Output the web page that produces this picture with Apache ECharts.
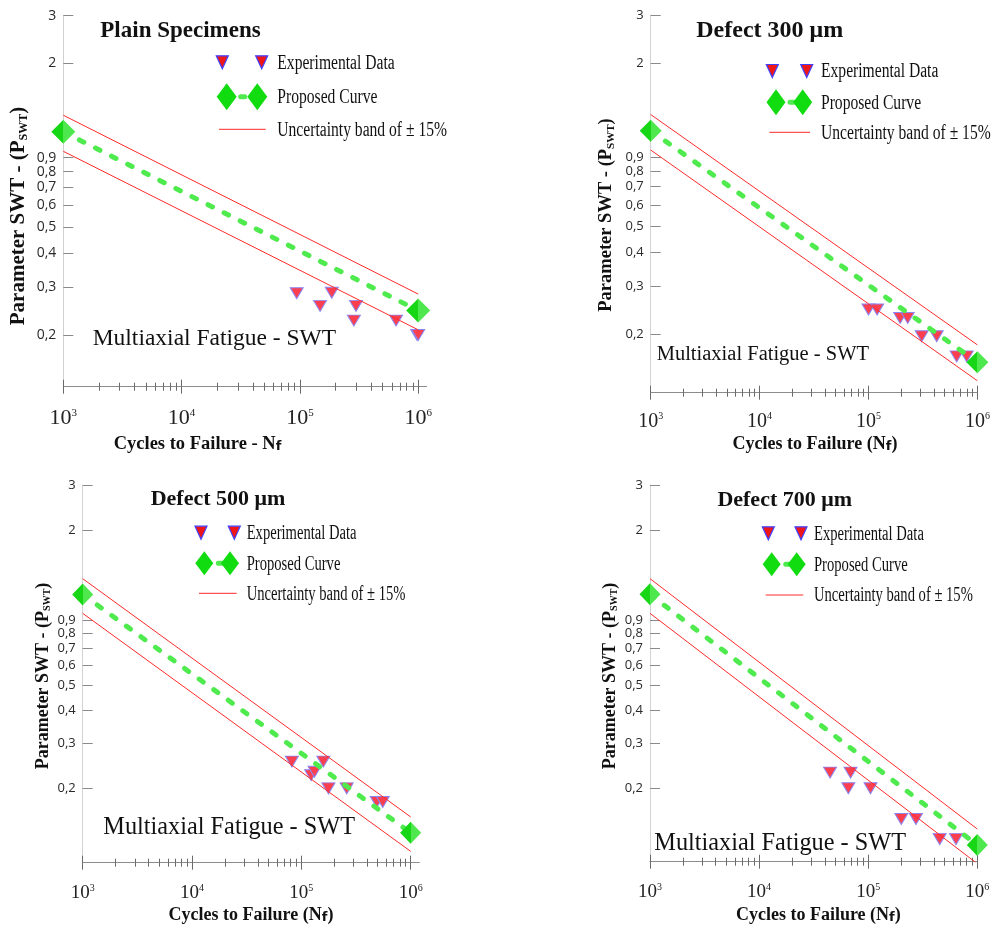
<!DOCTYPE html>
<html>
<head>
<meta charset="utf-8">
<script src="https://cdn.jsdelivr.net/npm/echarts@6.0.0/dist/echarts.min.js"></script>
<style>
  html, body { margin: 0; padding: 0; background: #fff; }
  #chart { width: 993px; height: 926px; }
</style>
</head>
<body>
<div id="chart"></div>
<script>
// ---- data ----
const curveCycles = [1e3, 1e6];
const xMajorTicks = [1e3, 1e4, 1e5, 1e6];
const xMinorSteps = [2, 3, 4, 5, 6, 7, 8, 9];
const yTickValues = [0.2, 0.3, 0.4, 0.5, 0.6, 0.7, 0.8, 0.9, 2, 3];

// Plain Specimens
const plainExpCycles = [9.4e4, 1.48e5, 1.86e5, 2.86e5, 2.98e5, 6.5e5, 9.8e5, 1.0e6];
const plainExpSwt = [0.285, 0.256, 0.286, 0.226, 0.256, 0.226, 0.2, 0.2];
const plainCurveSwt = [1.12, 0.246];
const plainUpperSwt = [1.29, 0.283];
const plainLowerSwt = [0.95, 0.209];

// Defect 300 um
const d300ExpCycles = [1.0e5, 1.2e5, 1.95e5, 2.29e5, 3.08e5, 4.23e5, 6.45e5, 7.98e5];
const d300ExpSwt = [0.247, 0.247, 0.230, 0.230, 0.197, 0.197, 0.166, 0.166];
const d300CurveSwt = [1.125, 0.158];
const d300UpperSwt = [1.29, 0.183];
const d300LowerSwt = [0.955, 0.135];

// Defect 500 um
const d500ExpCycles = [8.2e4, 1.23e5, 1.32e5, 1.59e5, 1.77e5, 2.6e5, 4.9e5, 5.56e5];
const d500ExpSwt = [0.254, 0.225, 0.232, 0.254, 0.2, 0.2, 0.177, 0.177];
const d500CurveSwt = [1.13, 0.1345];
const d500UpperSwt = [1.30, 0.155];
const d500LowerSwt = [0.954, 0.114];

// Defect 700 um
const d700ExpCycles = [4.47e4, 6.89e4, 6.58e4, 1.05e5, 2.01e5, 2.74e5, 4.52e5, 6.38e5];
const d700ExpSwt = [0.23, 0.23, 0.2, 0.2, 0.152, 0.152, 0.127, 0.127];
const d700CurveSwt = [1.13, 0.1205];
const d700UpperSwt = [1.30, 0.139];
const d700LowerSwt = [0.954, 0.102];

// ---- layout of the four panels ----
const panels = [
  {
    title: 'Plain Specimens', xTitle: ['Cycles to Failure - N', 'f', ''],
    cycles: plainExpCycles, swt: plainExpSwt, curve: plainCurveSwt, upper: plainUpperSwt, lower: plainLowerSwt,
    box: { left: 63.3, top: 15.7, width: 363.4, height: 371 }, xMax: 1.18e6, yMin: 0.129,
    titlePos: [180.5, 31, 23], yLab: 14, xLab: 22, xMargin: 21, diamond: [24, 24],
    legend: { tri: [222.3, 261.7], rows: [62.3, 96.7, 129.3], dia: [226.7, 257.3], line: [219, 265.7], tx: 277.3, sx: 0.78, dsz: [20, 27] },
    multi: [92.7, 339.3, 23.5], yTitle: [19, 216, 21], xTitlePos: [197.5, 444, 18.5]
  },
  {
    title: 'Defect 300 \u03bcm', xTitle: ['Cycles to Failure (N', 'f', ')'],
    cycles: d300ExpCycles, swt: d300ExpSwt, curve: d300CurveSwt, upper: d300UpperSwt, lower: d300LowerSwt,
    box: { left: 650.7, top: 15, width: 326.7, height: 377.7 }, xMax: 1e6, yMin: 0.122,
    titlePos: [769.7, 30.7, 24], yLab: 13, xLab: 20, xMargin: 19, diamond: [22, 22],
    legend: { tri: [772.3, 806.7], rows: [71, 102.3, 132.3], dia: [776, 802.7], line: [769.3, 810], tx: 821, sx: 0.78, dsz: [19, 26] },
    multi: [656.7, 354.3, 20.5], yTitle: [606.7, 215, 18.5], xTitlePos: [815, 444, 18]
  },
  {
    title: 'Defect 500 \u03bcm', xTitle: ['Cycles to Failure (N', 'f', ')'],
    cycles: d500ExpCycles, swt: d500ExpSwt, curve: d500CurveSwt, upper: d500UpperSwt, lower: d500LowerSwt,
    box: { left: 82.7, top: 485, width: 336.6, height: 377.7 }, xMax: 1.2e6, yMin: 0.103,
    titlePos: [218, 499.3, 22], yLab: 13, xLab: 19, xMargin: 21, diamond: [21, 22],
    legend: { tri: [201, 234.3], rows: [532.7, 563.3, 593.3], dia: [204.3, 230], line: [199, 236.7], tx: 246.7, sx: 0.73, dsz: [18, 24] },
    multi: [103.3, 827.7, 24.3], yTitle: [43.3, 676, 18], xTitlePos: [251, 915, 18]
  },
  {
    title: 'Defect 700 \u03bcm', xTitle: ['Cycles to Failure (N', 'f', ')'],
    cycles: d700ExpCycles, swt: d700ExpSwt, curve: d700CurveSwt, upper: d700UpperSwt, lower: d700LowerSwt,
    box: { left: 650, top: 485, width: 327.3, height: 376.7 }, xMax: 1e6, yMin: 0.1038,
    titlePos: [784.7, 500.7, 22], yLab: 13, xLab: 19, xMargin: 21, diamond: [21, 22],
    legend: { tri: [768.3, 801], rows: [533.3, 564.3, 595], dia: [771.7, 796.7], line: [765.7, 803.3], tx: 814, sx: 0.73, dsz: [18, 24] },
    multi: [654.3, 843.3, 24.3], yTitle: [610, 676, 18], xTitlePos: [818.3, 915, 18]
  }
];

const SERIF = '"Liberation Serif", "Times New Roman", serif';
const GREEN_LINE = '#4eea4e';
const RED_LINE = '#ff2a2a';

function diamondFill() {
  return new echarts.graphic.LinearGradient(0, 0, 1, 0, [
    { offset: 0, color: '#16d616' }, { offset: 0.5, color: '#16d616' },
    { offset: 0.5, color: '#4ee84e' }, { offset: 1, color: '#4ee84e' }
  ]);
}

// x axis in log space, only used to draw ticks / labels
function tickAxisX(g, lx, values, len, inside, showLine, label) {
  return {
    type: 'value', gridIndex: g, position: 'bottom', min: lx[0], max: lx[1],
    axisLine: { show: showLine, onZero: false, lineStyle: { color: '#8c8c8c', width: 1 } },
    axisTick: { show: true, inside: inside, length: len, customValues: values, lineStyle: { color: '#6a6a6a', width: 1 } },
    axisLabel: label || { show: false },
    splitLine: { show: false }
  };
}

const grid = [], xAxis = [], yAxis = [], series = [], graphic = [];

panels.forEach((p, g) => {
  grid.push(Object.assign({ containLabel: false }, p.box));

  // data axes (real log scales)
  const xi = xAxis.length;
  xAxis.push({ type: 'log', gridIndex: g, min: 1e3, max: p.xMax, show: false, axisLine: { onZero: false } });
  const yi = yAxis.length;
  yAxis.push({ type: 'log', gridIndex: g, min: p.yMin, max: 3, show: false, axisLine: { onZero: false } });

  // tick axes
  const lx = [Math.log10(1e3), Math.log10(p.xMax)];
  const ly = [Math.log10(p.yMin), Math.log10(3)];
  const majors = xMajorTicks.map(Math.log10);
  const minors = [];
  xMajorTicks.slice(0, 3).forEach(d => xMinorSteps.forEach(s => minors.push(Math.log10(d * s))));

  xAxis.push(tickAxisX(g, lx, majors, 7, false, true, {
    show: true, customValues: majors, margin: p.xMargin,
    formatter: v => '{b|10}{s|' + Math.round(v) + '}',
    rich: {
      b: { fontFamily: SERIF, fontSize: p.xLab, color: '#222' },
      s: { fontFamily: SERIF, fontSize: Math.round(p.xLab * 0.5), color: '#222', verticalAlign: 'top' }
    }
  }));
  xAxis.push(tickAxisX(g, lx, majors, 7, true, false));
  xAxis.push(tickAxisX(g, lx, minors, 4, false, false));
  xAxis.push(tickAxisX(g, lx, minors, 4, true, false));

  const yVals = yTickValues.map(Math.log10);
  yAxis.push({
    type: 'value', gridIndex: g, position: 'left', min: ly[0], max: ly[1],
    axisLine: { show: true, onZero: false, lineStyle: { color: '#d2d2d2', width: 1 } },
    axisTick: { show: true, inside: true, length: 10, customValues: yVals, lineStyle: { color: '#8a8a8a' } },
    axisLabel: {
      show: true, customValues: yVals, margin: 7,
      fontFamily: '"Open Sans", sans-serif', fontSize: p.yLab, color: '#2a2a2a',
      formatter: v => {
        const n = Math.pow(10, v);
        return n >= 1 ? String(Math.round(n)) : n.toFixed(1).replace('.', ',');
      }
    },
    splitLine: { show: false }
  });

  // series
  series.push({
    type: 'scatter', xAxisIndex: xi, yAxisIndex: yi, z: 2,
    data: p.cycles.map((c, i) => [c, p.swt[i]]),
    symbol: 'triangle', symbolRotate: 180, symbolSize: [13, 11],
    itemStyle: { color: '#fb3f4e', borderColor: '#8a86f4', borderWidth: 1, opacity: 1 }
  });
  [p.upper, p.lower].forEach(band => series.push({
    type: 'line', xAxisIndex: xi, yAxisIndex: yi, z: 3, silent: true,
    data: curveCycles.map((c, i) => [c, band[i]]),
    symbol: 'none', lineStyle: { color: RED_LINE, width: 1 }
  }));
  series.push({
    type: 'line', xAxisIndex: xi, yAxisIndex: yi, z: 4, clip: false,
    data: curveCycles.map((c, i) => [c, p.curve[i]]),
    symbol: 'diamond', symbolSize: p.diamond, showSymbol: true,
    lineStyle: { color: GREEN_LINE, width: 5, type: [5, 13], cap: 'round' },
    itemStyle: { color: diamondFill() }
  });

  // titles and texts
  graphic.push({
    type: 'text', x: p.titlePos[0], y: p.titlePos[1], z: 10,
    style: { text: p.title, fontFamily: SERIF, fontWeight: 'bold', fontSize: p.titlePos[2], fill: '#111', align: 'center', verticalAlign: 'middle' }
  });
  graphic.push({
    type: 'text', x: p.multi[0], y: p.multi[1], z: 10,
    style: { text: 'Multiaxial Fatigue - SWT', fontFamily: SERIF, fontSize: p.multi[2], fill: '#111', align: 'left', verticalAlign: 'middle' }
  });
  graphic.push({
    type: 'text', x: p.yTitle[0], y: p.yTitle[1], rotation: Math.PI / 2, z: 10,
    style: {
      text: '{a|Parameter SWT - (P}{s|SWT}{a|)}', align: 'center', verticalAlign: 'middle',
      rich: {
        a: { fontFamily: SERIF, fontWeight: 'bold', fontSize: p.yTitle[2], fill: '#111' },
        s: { fontFamily: SERIF, fontWeight: 'bold', fontSize: Math.round(p.yTitle[2] * 0.58), fill: '#111', verticalAlign: 'bottom' }
      }
    }
  });
  graphic.push({
    type: 'text', x: p.xTitlePos[0], y: p.xTitlePos[1], z: 10,
    style: {
      text: '{a|' + p.xTitle[0] + '}{s|' + p.xTitle[1] + '}' + (p.xTitle[2] ? '{a|' + p.xTitle[2] + '}' : ''),
      align: 'center', verticalAlign: 'middle',
      rich: {
        a: { fontFamily: SERIF, fontWeight: 'bold', fontSize: p.xTitlePos[2], fill: '#111' },
        s: { fontFamily: '"DejaVu Sans", sans-serif', fontWeight: 'bold', fontSize: Math.round(p.xTitlePos[2] * 0.7), fill: '#111', verticalAlign: 'bottom' }
      }
    }
  });

  // legend
  const L = p.legend;
  L.tri.forEach(cx => graphic.push({
    type: 'polygon', z: 10,
    shape: { points: [[cx - 6, L.rows[0] - 6.5], [cx + 6, L.rows[0] - 6.5], [cx, L.rows[0] + 6.5]] },
    style: { fill: '#ee1616', stroke: '#4040ff', lineWidth: 1.2 }
  }));
  graphic.push({
    type: 'line', z: 10,
    shape: { x1: L.dia[0], y1: L.rows[1], x2: L.dia[1], y2: L.rows[1] },
    style: { stroke: GREEN_LINE, lineWidth: 5, lineDash: [4, 10], lineCap: 'round' }
  });
  L.dia.forEach(cx => {
    const w = L.dsz[0] / 2, h = L.dsz[1] / 2, r = L.rows[1];
    graphic.push({
      type: 'polygon', z: 11,
      shape: { points: [[cx, r - h], [cx + w, r], [cx, r + h], [cx - w, r]] },
      style: { fill: '#10dc10' }
    });
  });
  graphic.push({
    type: 'line', z: 10,
    shape: { x1: L.line[0], y1: L.rows[2], x2: L.line[1], y2: L.rows[2] },
    style: { stroke: RED_LINE, lineWidth: 1 }
  });
  ['Experimental Data', 'Proposed Curve', 'Uncertainty band of \u00b1 15%'].forEach((t, k) => graphic.push({
    type: 'text', x: L.tx, y: L.rows[k] + 1, scaleX: L.sx, z: 10,
    style: { text: t, fontFamily: SERIF, fontSize: 20, fill: '#111', align: 'left', verticalAlign: 'middle' }
  }));
});

const chart = echarts.init(document.getElementById('chart'), null, { renderer: 'canvas' });
chart.setOption({
  animation: false,
  backgroundColor: '#fff',
  grid, xAxis, yAxis, series, graphic
});
</script>
</body>
</html>
